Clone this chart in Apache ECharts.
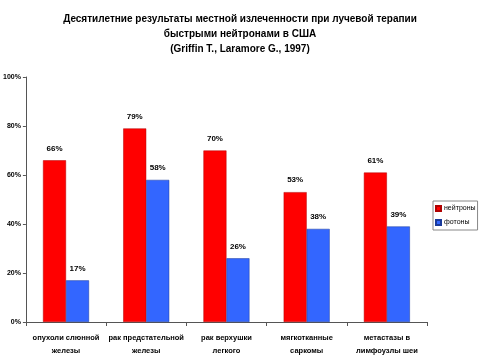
<!DOCTYPE html>
<html><head><meta charset="utf-8">
<script src="https://cdn.jsdelivr.net/npm/echarts@6/dist/echarts.min.js"></script>
<style>html,body{margin:0;padding:0;background:#fff}#c{width:480px;height:360px}</style>
</head><body><div id="c"></div>
<script>
var categories = ['опухоли слюнной\nжелезы','рак предстательной\nжелезы','рак верхушки\nлегкого','мягкотканные\nсаркомы','метастазы в\nлимфоузлы шеи'];
var neutrons = [66, 79, 70, 53, 61];
var photons = [17, 58, 26, 38, 39];
var seriesNames = ['нейтроны', 'фотоны'];
var yTicks = [0, 20, 40, 60, 80, 100];
var titleLines = ['Десятилетние результаты местной излеченности при лучевой терапии','быстрыми нейтронами в США','(Griffin T., Laramore G., 1997)'];

var FF = '"Liberation Sans", Arial, sans-serif';
var chart = echarts.init(document.getElementById('c'), null, {renderer:'canvas'});
var lbl = {show:true, position:'top', distance:8, formatter:'{c}%', fontFamily:FF, fontWeight:'bold', fontSize:8, color:'#000'};
chart.setOption({
  animation:false,
  backgroundColor:'#fff',
  title:{text:titleLines.join('\n'), left:'center', top:7, textStyle:{fontFamily:FF, fontWeight:'bold', fontSize:10, lineHeight:15, color:'#000'}},
  legend:{orient:'vertical', left:433, top:201, itemWidth:5, itemHeight:5, itemGap:7, padding:[4,2,4,2],
    borderColor:'#888', borderWidth:1, textStyle:{fontFamily:FF, fontSize:7, color:'#000', padding:[0,0,0,-2]}, data:seriesNames, icon:'rect'},
  grid:{left:25, right:53, top:77, bottom:38},
  xAxis:{type:'category', data:categories,
    axisLine:{lineStyle:{color:'#555', width:1}},
    axisTick:{show:true, length:4, lineStyle:{color:'#555'}},
    axisLabel:{fontFamily:FF, fontWeight:'bold', fontSize:7.5, color:'#000', lineHeight:13, margin:9, interval:0}},
  yAxis:{type:'value', min:yTicks[0], max:yTicks[yTicks.length-1], interval:20,
    axisLine:{show:true, lineStyle:{color:'#555'}},
    axisTick:{show:true, length:3, lineStyle:{color:'#555'}},
    splitLine:{show:false},
    axisLabel:{formatter:'{value}%', fontFamily:FF, fontWeight:'bold', fontSize:7, color:'#000', margin:5}},
  series:[
    {name:seriesNames[0], type:'bar', data:neutrons, barWidth:23, barGap:'0%',
      itemStyle:{color:'#FF0000', borderColor:'#B00000', borderWidth:0.5}, label:lbl},
    {name:seriesNames[1], type:'bar', data:photons, barWidth:23,
      itemStyle:{color:'#3366FF', borderColor:'#1a3a9a', borderWidth:0.5}, label:lbl}
  ]
});
</script></body></html>
